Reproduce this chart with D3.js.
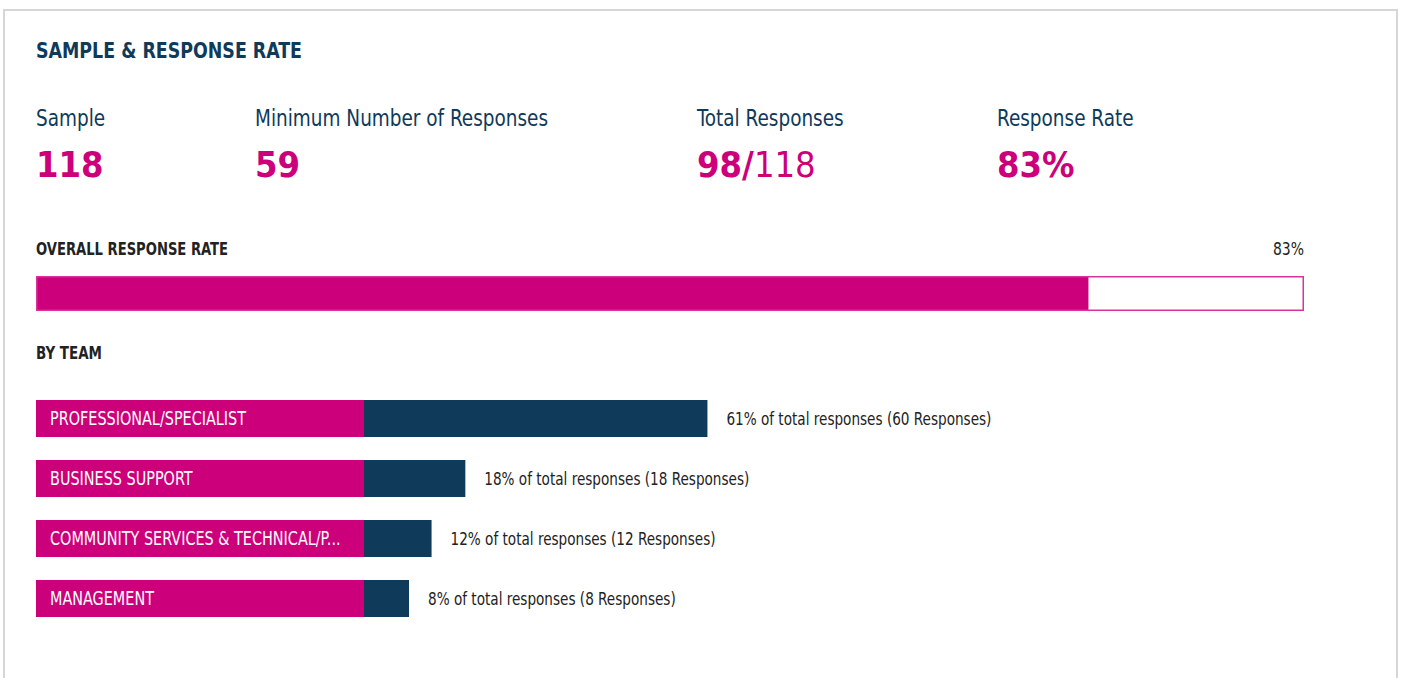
<!DOCTYPE html>
<html>
<head>
<meta charset="utf-8">
<script src="https://cdn.jsdelivr.net/npm/d3@7"></script>
<style>
  body { margin: 0; background: #fff; }
  svg { display: block; }
  text { font-family: "DejaVu Sans Condensed", "Liberation Sans Narrow", "Roboto", sans-serif; }
</style>
</head>
<body>
<svg id="container"></svg>
<script>
const statLabels = ['Sample', 'Minimum Number of Responses', 'Total Responses', 'Response Rate'];
const statBold = ['118', '59', '98/', '83%'];
const statLight = ['', '', '118', ''];

const overallRate = 83;

const teams = ['PROFESSIONAL/SPECIALIST', 'BUSINESS SUPPORT', 'COMMUNITY SERVICES & TECHNICAL/P...', 'MANAGEMENT'];
const teamPct = [61, 18, 12, 8];
const teamCount = [60, 18, 12, 8];

const width = 1402;
const height = 678;
const magenta = '#cc007a';
const navy = '#0f3a5a';

const svg = d3.select('#container')
    .attr('width', width)
    .attr('height', height);

// squeeze text horizontally so item `ref` hits the target width, same ratio for the rest
function condense(sel, target, ref = 0) {
    const ratio = target / sel.nodes()[ref].getComputedTextLength();
    sel.each(function() {
        const w = this.getComputedTextLength();
        d3.select(this)
            .attr('textLength', w * ratio)
            .attr('lengthAdjust', 'spacingAndGlyphs');
    });
}

// card
svg.append('rect')
    .attr('x', 4).attr('y', 10)
    .attr('width', 1393).attr('height', 700)
    .attr('fill', '#fff')
    .attr('stroke', '#d6d6d6')
    .attr('stroke-width', 2);

const title = svg.append('text')
    .attr('x', 36).attr('y', 58)
    .attr('fill', navy)
    .attr('font-size', 22)
    .attr('font-weight', 'bold')
    .text('SAMPLE & RESPONSE RATE');
condense(title, 266);

// stats row
const statX = d3.scaleOrdinal().domain(statLabels).range([36, 255, 697, 997]);

const statText = svg.selectAll('.stat-label')
    .data(statLabels)
    .enter()
    .append('text')
    .attr('class', 'stat-label')
    .attr('x', d => statX(d))
    .attr('y', 126)
    .attr('fill', navy)
    .attr('font-size', 23)
    .text(d => d);
condense(statText, 293, 1);

const vals = svg.selectAll('.stat-val')
    .data(statLabels)
    .enter()
    .append('text')
    .attr('class', 'stat-val')
    .attr('x', d => statX(d))
    .attr('y', 177)
    .attr('fill', magenta)
    .attr('font-size', 36);
vals.append('tspan')
    .attr('font-weight', 'bold')
    .text((d, i) => statBold[i]);
vals.append('tspan')
    .attr('font-weight', 'normal')
    .text((d, i) => statLight[i]);

// overall response rate
const xOverall = d3.scaleLinear().domain([0, 100]).range([36, 1304]);

const overallTitle = svg.append('text')
    .attr('x', 36).attr('y', 255)
    .attr('fill', '#222')
    .attr('font-size', 17)
    .attr('font-weight', 'bold')
    .text('OVERALL RESPONSE RATE');
condense(overallTitle, 192);

const rateLabel = svg.append('text')
    .attr('x', xOverall(100)).attr('y', 255)
    .attr('text-anchor', 'end')
    .attr('fill', '#222')
    .attr('font-size', 17)
    .text(overallRate + '%');
condense(rateLabel, 31);

svg.append('rect')
    .attr('x', xOverall(0)).attr('y', 276)
    .attr('width', xOverall(overallRate) - xOverall(0))
    .attr('height', 35)
    .attr('fill', magenta);

svg.append('rect')
    .attr('x', xOverall(0) + 0.75).attr('y', 276.75)
    .attr('width', xOverall(100) - xOverall(0) - 1.5)
    .attr('height', 33.5)
    .attr('fill', 'none')
    .attr('stroke', '#d8339a')
    .attr('stroke-width', 1.5);

// by team
const byTeam = svg.append('text')
    .attr('x', 36).attr('y', 359)
    .attr('fill', '#222')
    .attr('font-size', 17)
    .attr('font-weight', 'bold')
    .text('BY TEAM');
condense(byTeam, 66);

const labelEnd = 364;
const xTeam = d3.scaleLinear().domain([0, 100]).range([0, 563]);
const yTeam = d3.scaleBand().domain(teams).range([400, 617]).paddingInner(0.383).paddingOuter(0);

const rows = svg.selectAll('.team')
    .data(teams)
    .enter()
    .append('g')
    .attr('class', 'team')
    .attr('transform', d => 'translate(0,' + yTeam(d) + ')');

rows.append('rect')
    .attr('x', 36).attr('y', 0)
    .attr('width', labelEnd - 36)
    .attr('height', yTeam.bandwidth())
    .attr('fill', magenta);

rows.append('rect')
    .attr('x', labelEnd).attr('y', 0)
    .attr('width', (d, i) => xTeam(teamPct[i]))
    .attr('height', yTeam.bandwidth())
    .attr('fill', navy);

const teamText = rows.append('text')
    .attr('x', 50)
    .attr('y', yTeam.bandwidth() / 2)
    .attr('dy', '0.36em')
    .attr('fill', '#fff')
    .attr('font-size', 19)
    .text(d => d);
condense(teamText, 196);

const pctText = rows.append('text')
    .attr('x', (d, i) => labelEnd + xTeam(teamPct[i]) + 19)
    .attr('y', yTeam.bandwidth() / 2)
    .attr('dy', '0.36em')
    .attr('fill', '#222')
    .attr('font-size', 18)
    .text((d, i) => teamPct[i] + '% of total responses (' + teamCount[i] + ' Responses)');
condense(pctText, 265);
</script>
</body>
</html>
